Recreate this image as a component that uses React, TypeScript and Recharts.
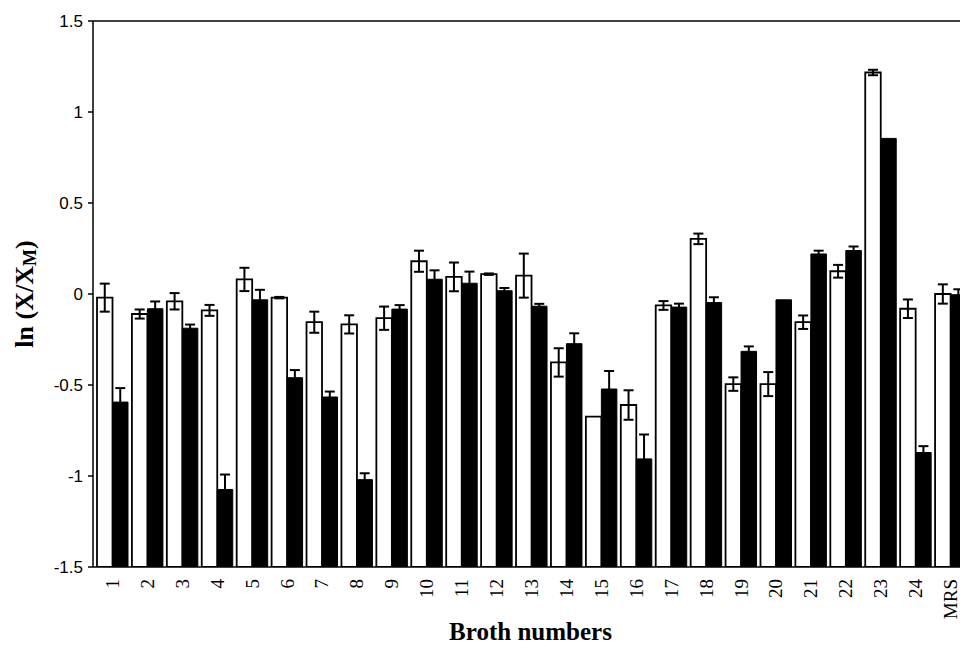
import { BarChart, Bar, XAxis, YAxis, ErrorBar, ReferenceLine } from 'recharts'

// broth numbers along the x axis
const broths = ['1', '2', '3', '4', '5', '6', '7', '8', '9', '10', '11', '12', '13', '14', '15', '16', '17', '18', '19', '20', '21', '22', '23', '24', 'MRS']

// white bars and their error
const whiteVals = [-0.02, -0.11, -0.04, -0.09, 0.08, -0.02, -0.155, -0.167, -0.133, 0.18, 0.094, 0.109, 0.101, -0.376, -0.674, -0.61, -0.063, 0.303, -0.495, -0.495, -0.155, 0.125, 1.217, -0.081, 0.0]
const whiteErr = [0.077, 0.025, 0.045, 0.03, 0.064, 0.004, 0.058, 0.05, 0.064, 0.058, 0.079, 0.004, 0.121, 0.078, 0, 0.081, 0.024, 0.029, 0.037, 0.066, 0.037, 0.035, 0.015, 0.051, 0.053]

// black bars and their error
const blackVals = [-0.594, -0.081, -0.188, -1.074, -0.032, -0.46, -0.566, -1.02, -0.083, 0.081, 0.059, 0.018, -0.067, -0.273, -0.522, -0.906, -0.072, -0.047, -0.315, -0.032, 0.22, 0.239, 0.855, -0.871, -0.004]
const blackErr = [0.077, 0.04, 0.02, 0.082, 0.055, 0.042, 0.03, 0.035, 0.022, 0.049, 0.064, 0.015, 0.013, 0.057, 0.099, 0.134, 0.019, 0.029, 0.027, 0, 0.018, 0.022, 0, 0.035, 0.03]

const yTicks = [-1.5, -1, -0.5, 0, 0.5, 1, 1.5]
const Y_MIN = -1.5

const data = broths.map((name, i) => ({
  name,
  white: whiteVals[i],
  whiteErr: whiteErr[i],
  black: blackVals[i],
  blackErr: blackErr[i],
}))

// bars in the original grow up from the bottom of the axis, not from zero
const fromBottom = (key: 'white' | 'black') => (d: any) => [Y_MIN, d[key]]

const serif = '"Liberation Serif", "Times New Roman", serif'

function BrothTick({ x, y, payload }: any) {
  return (
    <text
      x={x}
      y={y}
      transform={`rotate(-90 ${x} ${y})`}
      textAnchor="end"
      dominantBaseline="central"
      fontFamily={serif}
      fontSize={19}
      fill="#000"
    >
      {payload.value}
    </text>
  )
}

function YTitle({ viewBox }: any) {
  const cx = viewBox.x - 9
  const cy = viewBox.y + viewBox.height / 2
  return (
    <text
      x={cx}
      y={cy}
      transform={`rotate(-90 ${cx} ${cy})`}
      textAnchor="middle"
      dominantBaseline="central"
      fontFamily={serif}
      fontWeight="bold"
      fontSize={26}
      fill="#000"
    >
      ln (X/X
      <tspan fontSize={18} dy={6}>M</tspan>
      <tspan dy={-6}>)</tspan>
    </text>
  )
}

function XTitle({ viewBox }: any) {
  return (
    <text
      x={viewBox.x + viewBox.width / 2}
      y={631}
      textAnchor="middle"
      dominantBaseline="central"
      fontFamily={serif}
      fontWeight="bold"
      fontSize={25}
      fill="#000"
    >
      Broth numbers
    </text>
  )
}

export default function App() {
  return (
    <div style={{ position: 'absolute', left: 0, top: 0, width: 960, height: 646, overflow: 'hidden', background: '#fff' }}>
      <BarChart
        width={980}
        height={646}
        data={data}
        margin={{ top: 21, right: 12, bottom: 0, left: 33 }}
        barSize={15.5}
        barGap={0}
      >
        <XAxis
          dataKey="name"
          interval={0}
          height={79}
          padding={{ left: 2, right: 0 }}
          axisLine={{ stroke: '#000', strokeWidth: 1.5 }}
          tickLine={false}
          tickSize={0}
          tickMargin={12}
          tick={<BrothTick />}
          label={<XTitle />}
        />
        <YAxis
          type="number"
          domain={[-1.5, 1.5]}
          ticks={yTicks}
          width={60}
          allowDataOverflow
          axisLine={{ stroke: '#000', strokeWidth: 1.5 }}
          tickLine={{ stroke: '#000', strokeWidth: 1.5 }}
          tickSize={5}
          tickMargin={5}
          tick={{ fill: '#000', fontSize: 17, fontFamily: '"Liberation Sans", Arial, sans-serif' }}
          label={<YTitle />}
        />
        <ReferenceLine y={1.5} stroke="#000" strokeWidth={1.5} />
        <Bar dataKey={fromBottom('white')} fill="#fff" stroke="#000" strokeWidth={1.8} isAnimationActive={false}>
          <ErrorBar dataKey="whiteErr" width={5} stroke="#000" strokeWidth={2} direction="y" isAnimationActive={false} />
        </Bar>
        <Bar dataKey={fromBottom('black')} fill="#000" stroke="#000" strokeWidth={1} isAnimationActive={false}>
          <ErrorBar dataKey="blackErr" width={5} stroke="#000" strokeWidth={2} direction="y" isAnimationActive={false} />
        </Bar>
      </BarChart>
    </div>
  )
}
